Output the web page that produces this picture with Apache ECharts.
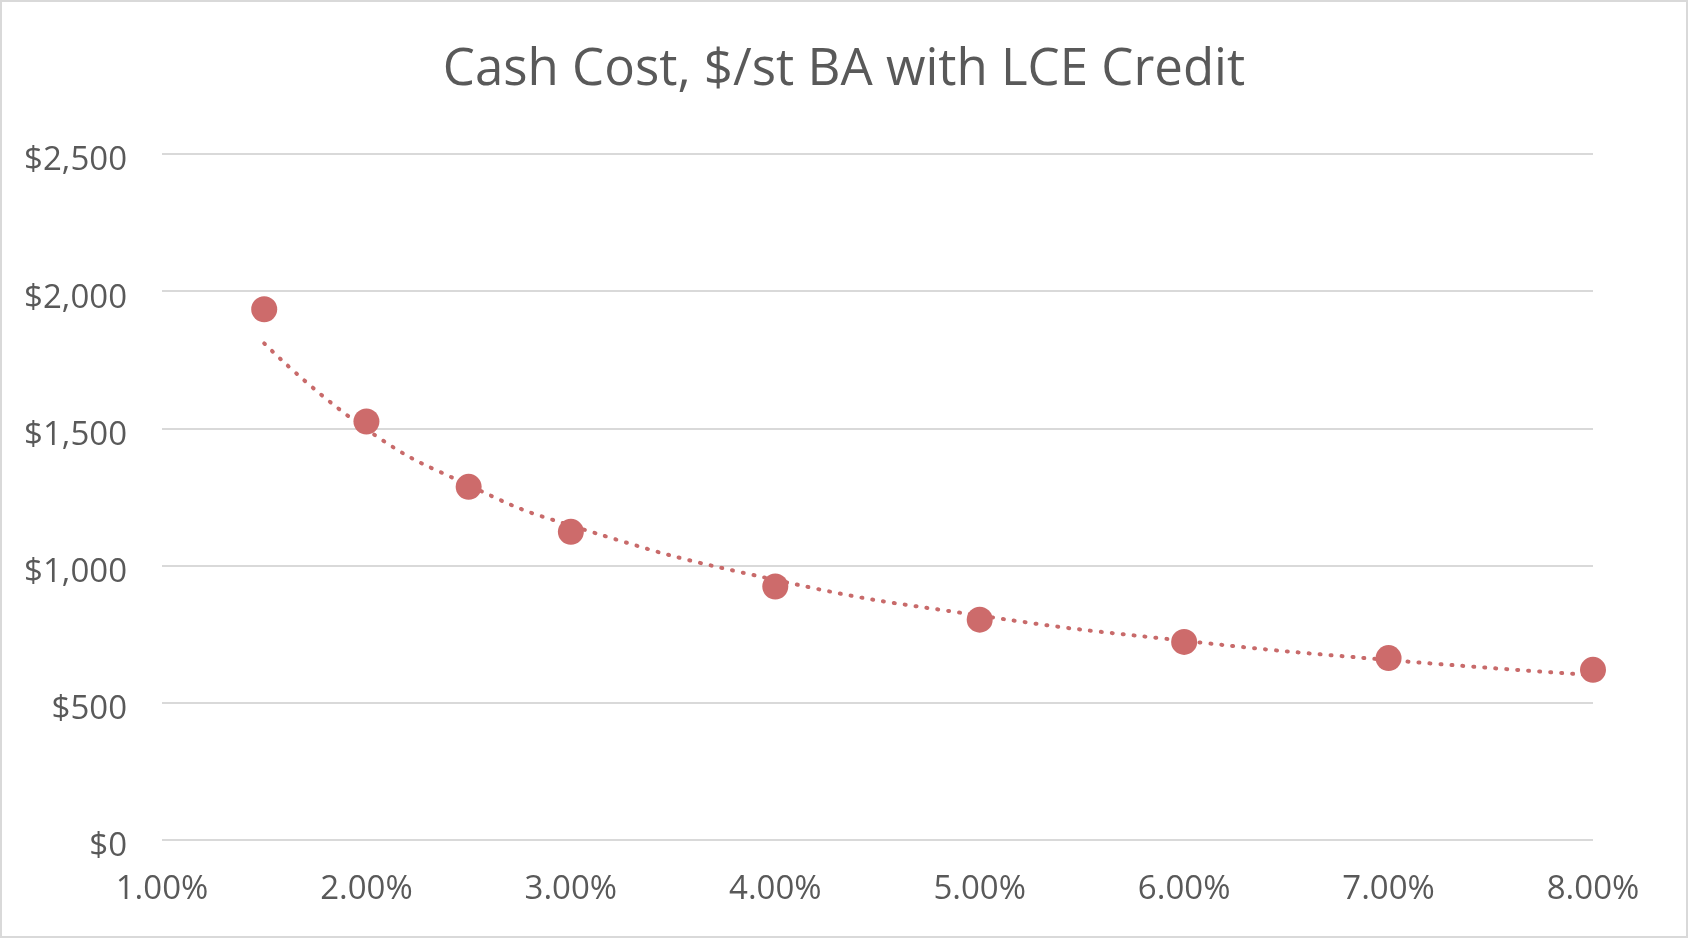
<!DOCTYPE html>
<html>
<head>
<meta charset="utf-8">
<script src="https://cdn.jsdelivr.net/npm/echarts@6/dist/echarts.min.js"></script>
<style>
  html, body { margin: 0; padding: 0; background: #fff; }
  #main {
    width: 1688px;
    height: 938px;
    box-sizing: border-box;
    border: 2px solid #d9d9d9;
  }
</style>
</head>
<body>
<div id="main"></div>
<script>
// 数据
const rates = [1.5, 2.0, 2.5, 3.0, 4.0, 5.0, 6.0, 7.0, 8.0];        // % BA
const cashCost = [1934, 1525, 1287, 1123, 924, 803, 722, 663, 620];  // $/st
// dotted trend line, values at the same rates
const trendCost = [1810, 1497, 1293, 1146, 948, 818, 726, 656, 601];
const yTicks = [0, 500, 1000, 1500, 2000, 2500];

const chart = echarts.init(document.getElementById('main'));
const font = '"Open Sans", "Noto Sans", sans-serif';

const option = {
  animation: false,
  title: {
    text: 'Cash Cost, $/st BA with LCE Credit',
    left: 'center',
    top: 38,
    textStyle: { color: '#595959', fontSize: 51, fontWeight: 'normal', fontFamily: font }
  },
  grid: { left: 160, right: 93, top: 152, bottom: 96 },
  xAxis: {
    type: 'value',
    min: 1,
    max: 8,
    interval: 1,
    axisLine: { show: false },
    axisTick: { show: false },
    splitLine: { show: false },
    axisLabel: {
      color: '#595959',
      fontSize: 33,
      fontFamily: font,
      margin: 33,
      formatter: v => v.toFixed(2) + '%'
    }
  },
  yAxis: {
    type: 'value',
    min: yTicks[0],
    max: yTicks[yTicks.length - 1],
    interval: 500,
    axisLine: { show: false },
    axisTick: { show: false },
    splitLine: { lineStyle: { color: '#d9d9d9', width: 2 } },
    axisLabel: {
      margin: 35,
      formatter: v => '{a|$' + v.toLocaleString('en-US') + '}',
      rich: {
        a: { color: '#595959', fontSize: 33, fontFamily: font, padding: [14, 0, 0, 0] }
      }
    }
  },
  series: [
    {
      name: 'Trend',
      type: 'line',
      smooth: true,
      symbol: 'none',
      data: rates.map((r, i) => [r, trendCost[i]]),
      lineStyle: { color: '#c86a6a', width: 4, type: [1, 10], cap: 'round' },
      z: 1
    },
    {
      name: 'Cash Cost',
      type: 'scatter',
      symbolSize: 26,
      data: rates.map((r, i) => [r, cashCost[i]]),
      itemStyle: { color: '#cd6b6b', opacity: 1 },
      z: 2
    }
  ]
};
chart.setOption(option);
window.addEventListener('resize', () => chart.resize());
</script>
</body>
</html>
